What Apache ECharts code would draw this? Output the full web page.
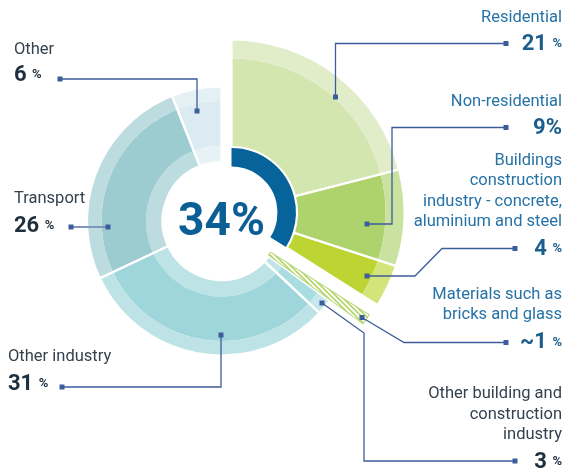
<!DOCTYPE html>
<html><head><meta charset="utf-8">
<script src="https://cdn.jsdelivr.net/npm/echarts@6/dist/echarts.min.js"></script>
<style>html,body{margin:0;padding:0;background:#fff}#c{width:567px;height:468px}</style>
</head><body><div id="c"></div>
<script>
// ---- data ----
const buildingCategories = ['Residential', 'Non-residential', 'Buildings construction industry - concrete, aluminium and steel'];
const buildingValues = [21, 9, 4];
const restCategories = ['Other building and construction industry', 'Other industry', 'Transport', 'Other'];
const restValues = [3, 31, 26, 6];
const materialsCategory = 'Materials such as bricks and glass';
const materialsValue = 1;
const centerLabel = '34%';
const buildingLabels = [
  { lines: ['Residential'], value: '21 ', unit: '%' },
  { lines: ['Non-residential'], value: '9%', unit: '' },
  { lines: ['Buildings', 'construction', 'industry - concrete,', 'aluminium and steel'], value: '4 ', unit: '%' },
  { lines: ['Materials such as', 'bricks and glass'], value: '~1 ', unit: '%' }
];
const restLabels = [
  { lines: ['Other building and', 'construction', 'industry'], value: '3 ', unit: '%' },
  { lines: ['Other industry'], value: '31 ', unit: '%' },
  { lines: ['Transport'], value: '26 ', unit: '%' },
  { lines: ['Other'], value: '6 ', unit: '%' }
];

// ---- styles / layout ----
const C0 = [221.5, 221];     // main centre
const C1 = [231.5, 212.5];   // exploded buildings group centre
const bMain = ['#d4e6b0', '#aed36c', '#bcd532'];
const bBand = ['#e1edc9', '#c9e2a0', '#d3e47b'];
const rRing = ['#bfe5e8', '#bee3e6', '#bcdcdf', '#e6f2f5'];
const rMain = ['#a8dde2', '#9fd6db', '#9ccbd0', '#dcebf1'];
const rBand = ['#c4e8eb', '#bee3e6', '#bcdcdf', '#e4f0f4'];
const DARK = '#06649a';
const LINE = '#3d5c9b';
const TR = 'rgba(0,0,0,0)';

const sum = a => a.reduce((s, v) => s + v, 0);
const bTotal = sum(buildingValues);
const rTotal = sum(restValues);

function pie(center, radius, data, extra) {
  return Object.assign({
    type: 'pie', center, radius, startAngle: 90, clockwise: true,
    silent: true, animation: false, avoidLabelOverlap: false,
    label: { show: false }, labelLine: { show: false },
    emphasis: { disabled: true }, data
  }, extra || {});
}
const gap = v => ({ value: v, itemStyle: { color: TR, borderWidth: 0 } });

// hatch pattern
const pc = document.createElement('canvas');
pc.width = 5; pc.height = 5;
const g = pc.getContext('2d');
g.fillStyle = '#fff'; g.fillRect(0, 0, 5, 5);
g.strokeStyle = '#b3d56a'; g.lineWidth = 1.6;
g.beginPath(); g.moveTo(-1, -1); g.lineTo(6, 6); g.moveTo(-1, 4); g.lineTo(1, 6); g.moveTo(4, -1); g.lineTo(6, 1); g.stroke();

const series = [];
// rest of economy (main centre)
const restSeries = (colors, extraStyle) => [gap(bTotal)].concat(restValues.map((v, i) => ({
  name: restCategories[i], value: v,
  itemStyle: Object.assign({ color: colors ? colors[i] : TR, borderWidth: 0 }, extraStyle || {})
})));
series.push(pie(C0, [59, 75.5], restSeries(rRing)));
series.push(pie(C0, [75.5, 120], restSeries(rMain)));
series.push(pie(C0, [120, 134.5], restSeries(rBand)));
series.push(pie(C0, [59, 134.5], restSeries(null, { borderColor: '#fff', borderWidth: 2.2 })));

// buildings group (exploded centre)
const bSeries = (colors, extraStyle) => buildingValues.map((v, i) => ({
  name: buildingCategories[i], value: v,
  itemStyle: Object.assign({ color: colors ? colors[i] : TR, borderWidth: 0 }, extraStyle || {})
})).concat([gap(rTotal)]);
series.push(pie(C1, [46, 65.5], [{ value: bTotal, itemStyle: { color: DARK, borderWidth: 0 } }, gap(rTotal)]));
series.push(pie(C1, [65.5, 154], bSeries(bMain)));
series.push(pie(C1, [154, 173], bSeries(bBand)));
series.push(pie(C1, [65.5, 173], bSeries(null, { borderColor: '#fff', borderWidth: 2.2 })));

// materials hatch
series.push(pie(C0, [57, 177], [gap(bTotal), { value: materialsValue, itemStyle: { color: '#fff', borderColor: '#fff', borderWidth: 4 } }, gap(rTotal - materialsValue)]));
series.push(pie(C0, [58, 175], [gap(bTotal), { name: materialsCategory, value: materialsValue, itemStyle: { color: { image: pc, repeat: 'repeat' }, borderColor: '#b3d56a', borderWidth: 1 } }, gap(rTotal - materialsValue)]));

// ---- annotation layout ----
const FONT = 'Roboto, "Noto Sans", sans-serif';
const blueText = '#2672a6', blueVal = '#1a5d8e';
const darkText = '#34424f', darkVal = '#1e303e';
const LH = 20.5;
const Z = 100;
const graphics = [];
function addLabel(lab, x, yFirst, yVal, align, tc, vc) {
  lab.lines.forEach((t, k) => graphics.push({
    type: 'text', silent: true, z: Z,
    style: { text: t, x, y: yFirst + k * LH, font: '16.5px ' + FONT, fill: tc, align, verticalAlign: 'middle' }
  }));
  graphics.push({
    type: 'text', silent: true, z: Z,
    style: {
      text: '{v|' + lab.value + '}' + (lab.unit ? '{u|' + lab.unit + '}' : ''), x, y: yVal, align, verticalAlign: 'middle',
      rich: { v: { font: 'bold 22px ' + FONT, fill: vc }, u: { font: 'bold 13px ' + FONT, fill: vc } }
    }
  });
}
const RX = 562;
addLabel(buildingLabels[0], RX, 17.5, 44, 'right', blueText, blueVal);
addLabel(buildingLabels[1], RX, 102, 128.5, 'right', blueText, blueVal);
addLabel(buildingLabels[2], RX, 160.5, 249, 'right', blueText, blueVal);
addLabel(buildingLabels[3], RX, 294.5, 342.5, 'right', blueText, blueVal);
addLabel(restLabels[0], RX, 394, 462, 'right', darkText, darkVal);
addLabel(restLabels[1], 8, 357, 384, 'left', darkText, darkVal);
addLabel(restLabels[2], 14, 199, 226, 'left', darkText, darkVal);
addLabel(restLabels[3], 14, 50, 75, 'left', darkText, darkVal);

const leaders = [
  { pts: [[506, 43.5], [335.5, 43.5], [335.5, 97]] },
  { pts: [[506, 127.5], [392, 127.5], [392, 224], [367, 224]] },
  { pts: [[515, 248.5], [442, 248.5], [415, 276], [367, 276]] },
  { pts: [[506, 342.5], [404, 342.5], [362, 317.5]] },
  { pts: [[515, 461], [364, 461], [364, 333], [322, 303]] },
  { pts: [[62, 387], [221, 387], [221, 335]] },
  { pts: [[71, 227], [108, 227]], color: '#7f95bb', w: 2 },
  { pts: [[60, 79], [197, 79], [197, 111]] }
];
leaders.forEach(l => {
  graphics.push({ type: 'polyline', silent: true, z: Z, shape: { points: l.pts }, style: { stroke: l.color || LINE, lineWidth: l.w || 1.3, fill: null } });
  [l.pts[0], l.pts[l.pts.length - 1]].forEach(p => graphics.push({
    type: 'rect', silent: true, z: Z + 1, shape: { x: p[0] - 2.5, y: p[1] - 2.5, width: 5, height: 5 }, style: { fill: LINE }
  }));
});
graphics.push({
  type: 'text', silent: true, z: Z,
  style: { text: centerLabel, x: C0[0], y: C0[1] + 2, font: 'bold 46px ' + FONT, fill: '#0b5f94', align: 'center', verticalAlign: 'middle' }
});

const chart = echarts.init(document.getElementById('c'), null, { renderer: 'canvas' });
chart.setOption({ animation: false, backgroundColor: '#fff', series, graphic: { elements: graphics } });
</script>
</body></html>
